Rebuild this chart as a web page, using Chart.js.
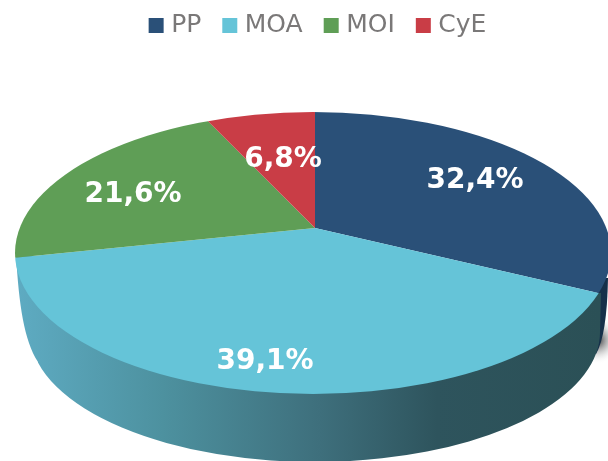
<!DOCTYPE html>
<html>
<head>
<meta charset="utf-8">
<style>
  html, body { margin: 0; padding: 0; background: #fff; }
  #wrap { width: 608px; height: 461px; overflow: hidden; }
</style>
<script src="https://cdn.jsdelivr.net/npm/chart.js@4/dist/chart.umd.min.js"></script>
</head>
<body>
<div id="wrap"><canvas id="pie" width="608" height="461"></canvas></div>
<script>
const categories = ['PP', 'MOA', 'MOI', 'CyE'];
const shares = [32.4, 39.1, 21.6, 6.8];
const sliceColors = ['#2a5078', '#65c4d8', '#5f9e56', '#c93d46'];

// where the percent labels sit, same order as categories
const labelSpots = [[475, 180], [265, 361], [133, 194], [283, 159]];

// fake 3D: slices meet at PIE, squashed by TILT, trimmed to the RIM ellipse
const PIE = { x: 315, y: 228, tilt: 0.455, radius: 400 };
const RIM = { x: 313, y: 253, rx: 298, ry: 141 };
const BASE = { x: 315, y: 332, rx: 285, ry: 130 };

const fakeDepth = {
    id: 'fakeDepth',
    beforeDatasetsDraw(chart) {
        const ctx = chart.ctx;

        // navy wall peeking out on the right, with its little shadow
        const shade = ctx.createRadialGradient(597, 340, 2, 597, 340, 24);
        shade.addColorStop(0, '#4a4b4d');
        shade.addColorStop(1, 'rgba(255,255,255,0)');
        ctx.fillStyle = shade;
        ctx.fillRect(590, 316, 18, 50);
        ctx.fillStyle = '#16304a';
        ctx.beginPath();
        ctx.moveTo(596, 296);
        ctx.lineTo(603, 278);
        ctx.lineTo(608, 278);
        ctx.quadraticCurveTo(607, 335, 596, 354);
        ctx.closePath();
        ctx.fill();

        // front wall
        const wall = ctx.createLinearGradient(17, 0, 600, 0);
        wall.addColorStop(0, '#5eabc2');
        wall.addColorStop(0.25, '#4d919f');
        wall.addColorStop(0.52, '#3e6f7c');
        wall.addColorStop(0.72, '#2e545d');
        wall.addColorStop(1, '#2b5056');
        ctx.fillStyle = wall;
        ctx.beginPath();
        ctx.moveTo(16, 255);
        ctx.bezierCurveTo(19, 305, 24, 340, 38, 362);
        ctx.ellipse(BASE.x, BASE.y, BASE.rx, BASE.ry, 0, Math.PI - 0.237, 0, true);
        ctx.lineTo(601, 293);
        ctx.closePath();
        ctx.fill();

        // top face
        ctx.save();
        ctx.beginPath();
        ctx.ellipse(RIM.x, RIM.y, RIM.rx, RIM.ry, 0, 0, Math.PI * 2);
        ctx.clip();
        const arc = chart.getDatasetMeta(0).data[0];
        ctx.translate(PIE.x, PIE.y);
        ctx.scale(1, PIE.tilt);
        ctx.translate(-arc.x, -arc.y);
    },
    afterDatasetsDraw(chart) {
        const ctx = chart.ctx;
        ctx.restore();

        ctx.fillStyle = '#ffffff';
        ctx.font = 'bold 28px "DejaVu Sans"';
        ctx.textAlign = 'center';
        ctx.textBaseline = 'middle';
        shares.forEach((v, i) => {
            ctx.fillText(v.toFixed(1).replace('.', ',') + '%', labelSpots[i][0], labelSpots[i][1] + 1);
        });
    },
};

new Chart(document.getElementById('pie'), {
    type: 'pie',
    data: {
        labels: categories,
        datasets: [{ data: shares, backgroundColor: sliceColors, borderWidth: 0, clip: false }],
    },
    options: {
        responsive: false,
        animation: false,
        radius: PIE.radius,
        layout: { padding: { top: -13, left: 32 } },
        plugins: {
            tooltip: { enabled: false },
            legend: {
                position: 'top',
                labels: {
                    color: '#7a7878',
                    font: { family: '"DejaVu Sans"', size: 25 },
                    usePointStyle: true,
                    pointStyle: 'rect',
                    boxWidth: 5,
                    boxHeight: 15,
                    padding: 26,
                },
            },
        },
    },
    plugins: [fakeDepth],
});
</script>
</body>
</html>
